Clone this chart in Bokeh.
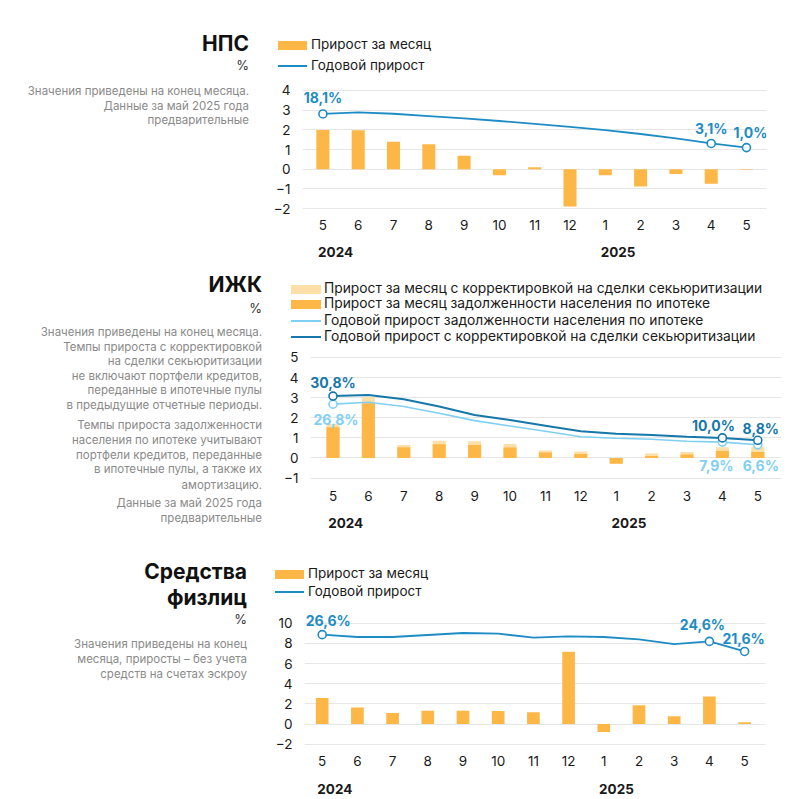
from bokeh.plotting import figure
from bokeh.models import (Range1d, LinearAxis, FixedTicker, Label, Grid, Div,
                          CustomJSTickFormatter)
from bokeh.layouts import column, row
from bokeh.embed import file_html
from bokeh.resources import INLINE

FONT = "Inter"

# ---------------- data ----------------
idx = list(range(13))
months = ["5", "6", "7", "8", "9", "10", "11", "12", "1", "2", "3", "4", "5"]
years = ["2024", "2025"]
year_pos = [0, 8]

nps_monthly = [2.00, 1.98, 1.40, 1.27, 0.69, -0.30, 0.10, -1.89, -0.30, -0.88, -0.24, -0.73, -0.03]
nps_annual = [18.1, 18.9, 18.2, 17.0, 15.8, 14.5, 13.1, 11.5, 9.9, 7.9, 5.7, 3.1, 1.0]
nps_ticks = [-2, -1, 0, 1, 2, 3, 4]

izhk_monthly_adj = [1.69, 3.02, 0.65, 0.86, 0.83, 0.70, 0.37, 0.32, -0.27, 0.22, 0.30, 0.53, 0.56]
izhk_monthly = [1.53, 2.72, 0.53, 0.68, 0.65, 0.52, 0.27, 0.20, -0.28, 0.10, 0.17, 0.35, 0.30]
izhk_annual = [26.8, 27.7, 25.6, 22.3, 18.6, 15.9, 13.3, 10.6, 9.8, 9.3, 8.3, 7.9, 6.6]
izhk_annual_adj = [30.8, 31.4, 29.2, 25.6, 21.4, 18.9, 16.1, 13.3, 12.1, 11.5, 10.6, 10.0, 8.8]
izhk_ticks = [-1, 0, 1, 2, 3, 4, 5]

dep_monthly = [2.58, 1.65, 1.09, 1.32, 1.32, 1.29, 1.16, 7.17, -0.79, 1.85, 0.76, 2.74, 0.17]
dep_annual = [26.6, 25.9, 25.9, 26.5, 27.1, 26.9, 25.7, 26.1, 25.9, 25.2, 23.8, 24.6, 21.6]
dep_ticks = [-2, 0, 2, 4, 6, 8, 10]

ORANGE = "#FDB747"
LIGHT = "#FDDFA8"
BLUE = "#1E8CC4"
DARKBLUE = "#1677AA"
LIGHTBLUE = "#7FD0F2"
GRAY = "#8a8a8a"
TXT = "#1a1a1a"

BL, BR = 40, 20   # equal borders for all charts
YEAR_SHIFT = 0.36  # year captions sit slightly right of their first month


def fmt(v):
    return ("%.1f" % v).replace(".", ",") + "%"


def chart(width, height, bt, bb, xr, yr, ar, yticks, m_standoff, y_standoff):
    p = figure(width=width, height=height, x_range=Range1d(*xr), y_range=Range1d(*yr),
               output_backend="svg", toolbar_location=None,
               min_border_left=BL, min_border_right=BR, min_border_top=bt, min_border_bottom=bb,
               x_axis_type=None, y_axis_type=None)
    p.extra_y_ranges = {"annual": Range1d(*ar)}
    p.outline_line_color = None
    p.background_fill_color = "white"
    p.border_fill_color = "white"
    xa = LinearAxis(ticker=FixedTicker(ticks=idx),
                    major_label_overrides={i: m for i, m in zip(idx, months)})
    ya2 = LinearAxis(ticker=FixedTicker(ticks=[q + YEAR_SHIFT for q in year_pos]),
                     formatter=CustomJSTickFormatter(args=dict(years=years),
                                                     code="return years[index];"))
    ya = LinearAxis(ticker=FixedTicker(ticks=yticks))
    for ax in (xa, ya2, ya):
        ax.axis_line_color = None
        ax.major_tick_line_color = None
        ax.minor_tick_line_color = None
        ax.major_tick_out = 0
        ax.major_tick_in = 0
        ax.minor_tick_out = 0
        ax.major_label_text_font = FONT
        ax.major_label_text_font_size = "13.5px"
        ax.major_label_text_color = TXT
    xa.major_label_standoff = m_standoff
    ya2.major_label_standoff = y_standoff
    ya2.major_label_text_font_style = "bold"
    ya.major_label_standoff = 12
    p.add_layout(xa, "below")
    p.add_layout(ya2, "below")
    p.add_layout(ya, "left")
    p.add_layout(Grid(dimension=1, ticker=ya.ticker, grid_line_color="#e6e6e6", grid_line_width=1))
    return p


def value_label(p, i, series, color, dx, dy):
    p.add_layout(Label(x=i, y=series[i], y_range_name="annual", x_offset=dx, y_offset=dy,
                       text=fmt(series[i]), text_align="center", text_baseline="middle",
                       text_font=FONT, text_font_size="14px", text_font_style="bold",
                       text_color=color))


def txt(x_right, yc, text, size, color, bold=False, lh=16):
    w = "700" if bold else "400"
    return ('<div style="position:absolute;right:%dpx;top:%.1fpx;height:%dpx;line-height:%dpx;'
            'font-size:%s;font-weight:%s;color:%s;white-space:nowrap;text-align:right;">%s</div>'
            % (x_right, yc - lh / 2, lh, lh, size, w, color, text))


def leg(x, yc, sw, sh, color, gap, text, fs="13.5px"):
    return ('<div style="position:absolute;left:%dpx;top:%.1fpx;height:18px;display:flex;'
            'align-items:center;font-size:%s;color:%s;white-space:nowrap;">'
            '<span style="display:inline-block;width:%dpx;height:%.1fpx;background:%s;'
            'margin-right:%dpx;"></span>%s</div>' % (x, yc - 9, fs, TXT, sw, sh, color, gap, text))


def box(w, h, inner):
    return Div(width=w, height=h, margin=(0, 0, 0, 0),
               text='<div style="position:relative;width:%dpx;height:%dpx;font-family:Inter,sans-serif;">%s</div>'
               % (w, h, inner))


def xrange_for(frame_l, frame_r, x0, step):
    start = -(x0 - frame_l) / step
    return (start, start + (frame_r - frame_l) / step)


marker_idx = [0, 11, 12]

# ---------------- panel 1: НПС ----------------
# frame page y 86..212
H1, WL1, HG1 = 265, 262, 76
p1 = chart(766 + BR - WL1, H1 - HG1, 10, 53, xrange_for(302, 766, 322.4, 35.3),
           (-2.196, 4.203), (-31.96, 32.03), nps_ticks, 7, 14)
p1.vbar(x=idx, top=nps_monthly, width=0.37, fill_color=ORANGE, line_color=None)
p1.line(x=idx, y=nps_annual, y_range_name="annual", line_color=BLUE, line_width=1.8)
p1.scatter(x=marker_idx, y=[nps_annual[i] for i in marker_idx], y_range_name="annual",
           marker="circle", size=8, fill_color="white", line_color=BLUE, line_width=1.6)
value_label(p1, 0, nps_annual, BLUE, 0, 16)
value_label(p1, 11, nps_annual, BLUE, 0, 15)
value_label(p1, 12, nps_annual, BLUE, 4, 15)
d1l = box(WL1, H1, "".join([
    txt(13, 44, "НПС", "21px", "#111111", True, 26),
    txt(13, 65, "%", "13px", "#333333"),
    txt(13, 91, "Значения приведены на конец месяца.", "11.5px", GRAY),
    txt(13, 106, "Данные за май 2025 года", "11.5px", GRAY),
    txt(13, 120, "предварительные", "11.5px", GRAY),
]))
d1g = box(800 - WL1, HG1, "".join([
    leg(16, 45, 29, 9, ORANGE, 4, "Прирост за месяц"),
    leg(16, 66, 29, 2, BLUE, 4, "Годовой прирост"),
]))
panel1 = row(d1l, column(d1g, p1))

# ---------------- panel 2: ИЖК ----------------
# frame page y 353..482
H2, WL2, HG2 = 275, 270, 82
p2 = chart(781 + BR - WL2, H2 - HG2, 6, 58, xrange_for(310, 781, 332.5, 35.4),
           (-1.219, 5.199), (-12.19, 51.99), izhk_ticks, 8, 14)
p2.vbar(x=idx, top=izhk_monthly_adj, width=0.37, fill_color=LIGHT, line_color=None)
p2.vbar(x=idx, top=izhk_monthly, width=0.37, fill_color=ORANGE, line_color=None)
p2.line(x=idx, y=izhk_annual, y_range_name="annual", line_color=LIGHTBLUE, line_width=1.6)
p2.line(x=idx, y=izhk_annual_adj, y_range_name="annual", line_color=DARKBLUE, line_width=2)
p2.scatter(x=marker_idx, y=[izhk_annual[i] for i in marker_idx], y_range_name="annual",
           marker="circle", size=8, fill_color="white", line_color=LIGHTBLUE, line_width=1.6)
p2.scatter(x=marker_idx, y=[izhk_annual_adj[i] for i in marker_idx], y_range_name="annual",
           marker="circle", size=8, fill_color="white", line_color=DARKBLUE, line_width=1.6)
value_label(p2, 0, izhk_annual_adj, DARKBLUE, 0, 14)
value_label(p2, 11, izhk_annual_adj, DARKBLUE, -9, 12)
value_label(p2, 12, izhk_annual_adj, DARKBLUE, 3, 12)
value_label(p2, 0, izhk_annual, LIGHTBLUE, 3, -15)
value_label(p2, 11, izhk_annual, LIGHTBLUE, -6, -23)
value_label(p2, 12, izhk_annual, LIGHTBLUE, 3, -21)
desc2 = ["Значения приведены на конец месяца.", "Темпы прироста с корректировкой",
         "на сделки секьюритизации", "не включают портфели кредитов,",
         "переданные в ипотечные пулы", "в предыдущие отчетные периоды.",
         "Темпы прироста задолженности", "населения по ипотеке учитывают",
         "портфели кредитов, переданные", "в ипотечные пулы, а также их", "амортизацию.",
         "Данные за май 2025 года", "предварительные"]
ys2 = [332, 347, 361, 376, 390, 405, 425, 440, 455, 469, 485, 503, 518]
d2l = box(WL2, H2, "".join(
    [txt(8, 285 - 265, "ИЖК", "21px", "#111111", True, 26),
     txt(8, 308 - 265, "%", "13px", "#333333")] +
    [txt(8, y - 265, t, "11.5px", GRAY) for t, y in zip(desc2, ys2)]))
d2g = box(800 - WL2, HG2, "".join([
    leg(21, 289 - 265, 30, 9, LIGHT, 3, "Прирост за месяц с корректировкой на сделки секьюритизации", "13.8px"),
    leg(21, 304 - 265, 30, 9, ORANGE, 3, "Прирост за месяц задолженности населения по ипотеке", "13.8px"),
    leg(21, 321 - 265, 30, 1.5, LIGHTBLUE, 3, "Годовой прирост задолженности населения по ипотеке", "13.8px"),
    leg(21, 337 - 265, 30, 2, DARKBLUE, 3, "Годовой прирост с корректировкой на сделки секьюритизации", "13.8px"),
]))
panel2 = row(d2l, column(d2g, p2))

# ---------------- panel 3: Средства физлиц ----------------
# frame page y 605..748
H3, WL3, HG3 = 258, 264, 65
p3 = chart(765 + BR - WL3, H3 - HG3, 0, 50, xrange_for(304, 765, 321.7, 35.2),
           (-2.43, 11.76), (-7.29, 35.28), dep_ticks, 7, 15)
p3.vbar(x=idx, top=dep_monthly, width=0.36, fill_color=ORANGE, line_color=None)
p3.line(x=idx, y=dep_annual, y_range_name="annual", line_color=BLUE, line_width=1.8)
p3.scatter(x=marker_idx, y=[dep_annual[i] for i in marker_idx], y_range_name="annual",
           marker="circle", size=8, fill_color="white", line_color=BLUE, line_width=1.6)
value_label(p3, 0, dep_annual, BLUE, 6, 14)
value_label(p3, 11, dep_annual, BLUE, -7, 17)
value_label(p3, 12, dep_annual, BLUE, -1, 13)
d3l = box(WL3, H3, "".join([
    txt(17, 572 - 540, "Средства", "21px", "#111111", True, 26),
    txt(17, 598 - 540, "физлиц", "21px", "#111111", True, 26),
    txt(17, 619 - 540, "%", "13px", "#333333"),
    txt(17, 644 - 540, "Значения приведены на конец", "11.5px", GRAY),
    txt(17, 659 - 540, "месяца, приросты – без учета", "11.5px", GRAY),
    txt(17, 674 - 540, "средств на счетах эскроу", "11.5px", GRAY),
]))
d3g = box(800 - WL3, HG3, "".join([
    leg(11, 574 - 540, 29, 9, ORANGE, 4, "Прирост за месяц"),
    leg(11, 592 - 540, 29, 2, BLUE, 4, "Годовой прирост"),
]))
panel3 = row(d3l, column(d3g, p3))

layout = column(panel1, panel2, panel3)
open("out.html", "w").write(file_html(layout, INLINE))
